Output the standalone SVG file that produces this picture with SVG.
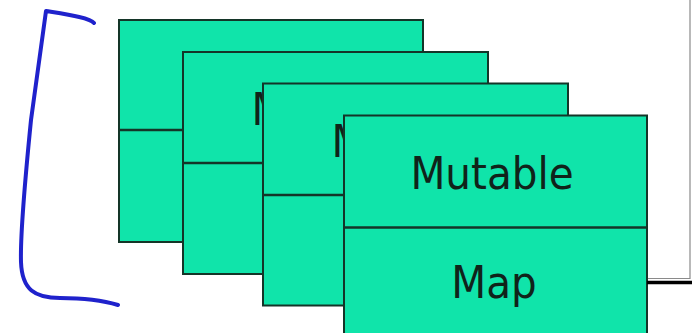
<svg xmlns="http://www.w3.org/2000/svg" width="692" height="333" viewBox="0 0 692 333">
<style>
.box{fill:#10e4aa;stroke:#143528;stroke-width:2}
.div{stroke:#143528;stroke-width:2.5}
.lbl{font-family:"DejaVu Sans Condensed","DejaVu Sans",sans-serif;font-stretch:condensed;font-size:45px;fill:#10231a;text-anchor:middle}
</style>
<rect width="692" height="333" fill="#ffffff"/>
<path d="M647,278.5 H690 V0" fill="none" stroke="#8a8a8a" stroke-width="1.2"/>
<g id="node1">
<rect class="box" x="119" y="20" width="304" height="222"/>
<line class="div" x1="119" y1="130" x2="423" y2="130"/>
<text class="lbl" x="268" y="93">Mutable</text>
<text class="lbl" x="268" y="201">Map</text>
</g>
<g id="node2">
<rect class="box" x="183" y="52" width="305" height="222"/>
<line class="div" x1="183" y1="163" x2="488" y2="163"/>
<text class="lbl" x="333" y="125">Mutable</text>
<text class="lbl" x="333" y="234">Map</text>
</g>
<g id="node3">
<rect class="box" x="263" y="83.5" width="305" height="222"/>
<line class="div" x1="263" y1="195" x2="568" y2="195"/>
<text class="lbl" x="413" y="157">Mutable</text>
<text class="lbl" x="413" y="266">Map</text>
</g>
<g id="node4">
<rect class="box" x="344" y="115.5" width="303" height="222"/>
<line class="div" x1="344" y1="227.5" x2="647" y2="227.5"/>
<text class="lbl" x="492" y="189">Mutable</text>
<text class="lbl" x="494" y="298">Map</text>
</g>
<g id="connectors">
<line x1="647" y1="282.5" x2="692" y2="282.5" stroke="#000000" stroke-width="3.5"/>
</g>
<path d="M94,23 C90,18 70,15 46,11 L31,120 C26,170 20,230 21,262 C22,290 35,298 60,298 C85,298 105,301 118,305" fill="none" stroke="#1f22cc" stroke-width="4" stroke-linecap="round" stroke-linejoin="round"/>
</svg>
